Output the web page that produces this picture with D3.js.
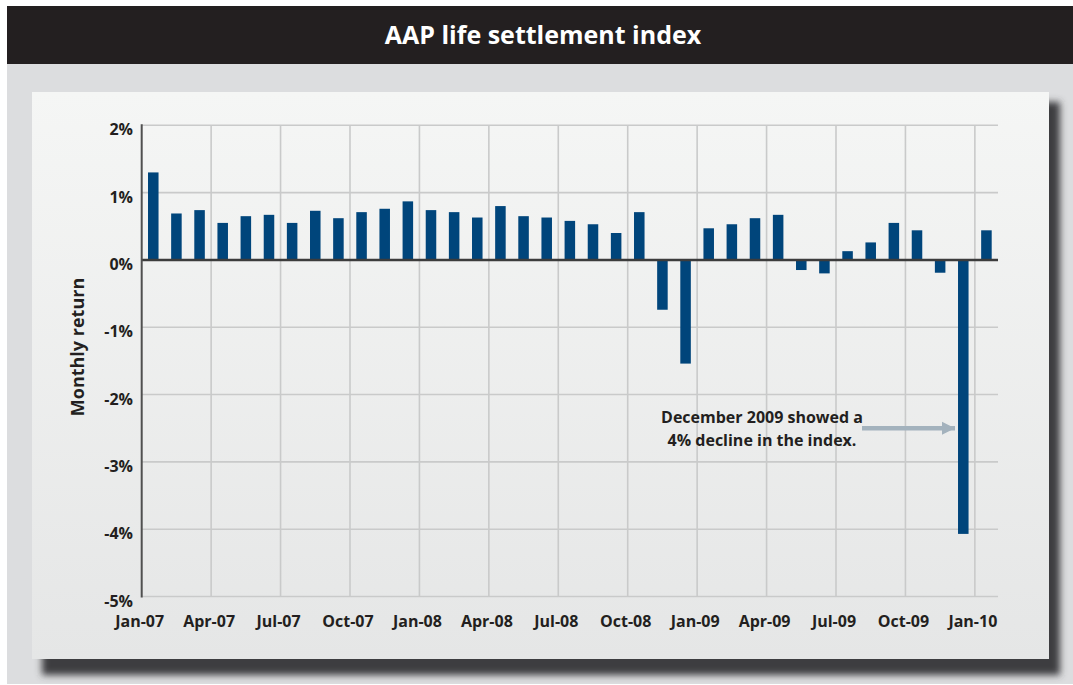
<!DOCTYPE html>
<html>
<head>
<meta charset="utf-8">
<script src="https://cdn.jsdelivr.net/npm/d3@7"></script>
<style>
  html, body { margin: 0; padding: 0; background: #ffffff; }
  svg { display: block; }
  text { font-family: "Open Sans", "DejaVu Sans", sans-serif; font-weight: 700; fill: #231f20; }
</style>
</head>
<body>
<svg id="chart" width="1073" height="685"></svg>
<script>
const title = "AAP life settlement index";
const yAxisTitle = "Monthly return";
const months = [
  "Jan-07","Feb-07","Mar-07","Apr-07","May-07","Jun-07","Jul-07","Aug-07","Sep-07","Oct-07","Nov-07","Dec-07",
  "Jan-08","Feb-08","Mar-08","Apr-08","May-08","Jun-08","Jul-08","Aug-08","Sep-08","Oct-08","Nov-08","Dec-08",
  "Jan-09","Feb-09","Mar-09","Apr-09","May-09","Jun-09","Jul-09","Aug-09","Sep-09","Oct-09","Nov-09","Dec-09",
  "Jan-10"
];
const returns = [
  1.30, 0.69, 0.74, 0.55, 0.65, 0.67, 0.55, 0.73, 0.62, 0.71, 0.76, 0.87,
  0.74, 0.71, 0.63, 0.80, 0.65, 0.63, 0.58, 0.53, 0.40, 0.71, -0.74, -1.54,
  0.47, 0.53, 0.62, 0.67, -0.15, -0.20, 0.13, 0.26, 0.55, 0.44, -0.19, -4.07,
  0.44
];
const xTickLabels = ["Jan-07","Apr-07","Jul-07","Oct-07","Jan-08","Apr-08","Jul-08","Oct-08","Jan-09","Apr-09","Jul-09","Oct-09","Jan-10"];
const yTicks = [2, 1, 0, -1, -2, -3, -4, -5];
const annotationLines = ["December 2009 showed a", "4% decline in the index."];
const annotatedMonth = "Dec-09";

const svg = d3.select("#chart");
const W = 1073, H = 685;

const defs = svg.append("defs");
const grad = defs.append("linearGradient").attr("id", "panelGrad").attr("x1", 0).attr("y1", 0).attr("x2", 0).attr("y2", 1);
grad.append("stop").attr("offset", "0%").attr("stop-color", "#f5f6f5");
grad.append("stop").attr("offset", "100%").attr("stop-color", "#e5e6e6");
const blur = defs.append("filter").attr("id", "shadow").attr("x", "-10%").attr("y", "-10%").attr("width", "120%").attr("height", "130%");
blur.append("feGaussianBlur").attr("stdDeviation", 3.5);
const marker = defs.append("marker").attr("id", "arrowHead")
  .attr("viewBox", "0 0 10 10").attr("refX", 10).attr("refY", 5)
  .attr("markerWidth", 3.0).attr("markerHeight", 3.0).attr("markerUnits", "strokeWidth")
  .attr("orient", "auto");
marker.append("path").attr("d", "M0,0 L10,5 L0,10 Z").attr("fill", "#a3b2bd");

// Background
svg.append("rect").attr("x", 0).attr("y", 0).attr("width", W).attr("height", H).attr("fill", "#ffffff");
svg.append("rect").attr("x", 7).attr("y", 64).attr("width", W - 7).attr("height", H - 65).attr("fill", "#dcdddf");
// Title bar
svg.append("rect").attr("x", 7).attr("y", 6).attr("width", W - 7).attr("height", 58).attr("fill", "#231f20");
svg.append("text").attr("x", 543).attr("y", 44).attr("text-anchor", "middle")
  .style("fill", "#ffffff").style("font-size", "25px").text(title);

// Panel + shadow
svg.append("rect").attr("x", 42).attr("y", 102).attr("width", 1018).attr("height", 573)
  .attr("fill", "#3d3d40").attr("filter", "url(#shadow)");
svg.append("rect").attr("x", 32).attr("y", 92).attr("width", 1017).attr("height", 567).attr("fill", "url(#panelGrad)");

// Scales
const x0 = 141.7, x1 = 998;
const x = d3.scaleBand().domain(months).range([x0, x1]).paddingInner(0.545).paddingOuter(0.2725);
const step = x.step();
const slotStart = m => x(m) + x.bandwidth() / 2 - step / 2;
const y = d3.scaleLinear().domain([-5, 2]).range([596.5, 125.3]);

const g = svg.append("g");

// Horizontal gridlines
g.selectAll("line.hgrid").data(yTicks.filter(v => v !== 0)).join("line")
  .attr("x1", x0).attr("x2", x1).attr("y1", d => y(d)).attr("y2", d => y(d))
  .attr("stroke", "#c9caca").attr("stroke-width", 1.6);
// Vertical gridlines
g.selectAll("line.vgrid").data(xTickLabels.slice(1)).join("line")
  .attr("x1", d => slotStart(d)).attr("x2", d => slotStart(d))
  .attr("y1", y(2)).attr("y2", y(-5))
  .attr("stroke", "#c9caca").attr("stroke-width", 1.6);

// Bars
g.selectAll("rect.bar").data(months.map((m, i) => ({ m, v: returns[i] }))).join("rect")
  .attr("class", "bar")
  .attr("x", d => x(d.m)).attr("width", x.bandwidth())
  .attr("y", d => y(Math.max(0, d.v))).attr("height", d => Math.abs(y(d.v) - y(0)))
  .attr("fill", "#00457b");

// Zero line
g.append("line").attr("x1", x0).attr("x2", x1).attr("y1", y(0)).attr("y2", y(0))
  .attr("stroke", "#3c3c3c").attr("stroke-width", 2.4);
// Left axis line
g.append("line").attr("x1", x0).attr("x2", x0).attr("y1", y(2) - 1).attr("y2", y(-5) + 1)
  .attr("stroke", "#505050").attr("stroke-width", 2);

// Y tick labels
g.selectAll("text.ytick").data(yTicks).join("text")
  .attr("x", 133).attr("y", d => y(d) + 10).attr("text-anchor", "end")
  .style("font-size", "16px").text(d => d + "%");

// X tick labels
g.selectAll("text.xtick").data(xTickLabels).join("text")
  .attr("x", d => slotStart(d) - 2).attr("y", 627).attr("text-anchor", "middle")
  .style("font-size", "16px").text(d => d);

// Y axis title
svg.append("text").attr("transform", "translate(84,347) rotate(-90)").attr("text-anchor", "middle")
  .style("font-size", "18px").text(yAxisTitle);

// Annotation
const ann = svg.append("text").attr("text-anchor", "middle").style("font-size", "16px");
annotationLines.forEach((t, i) => {
  ann.append("tspan").attr("x", 762).attr("y", 423 + i * 23).text(t);
});
const ax = x(annotatedMonth);
svg.append("line").attr("x1", 862).attr("x2", ax - 3).attr("y1", y(-2.5)).attr("y2", y(-2.5))
  .attr("stroke", "#a3b2bd").attr("stroke-width", 4.5).attr("marker-end", "url(#arrowHead)");
</script>
</body>
</html>
